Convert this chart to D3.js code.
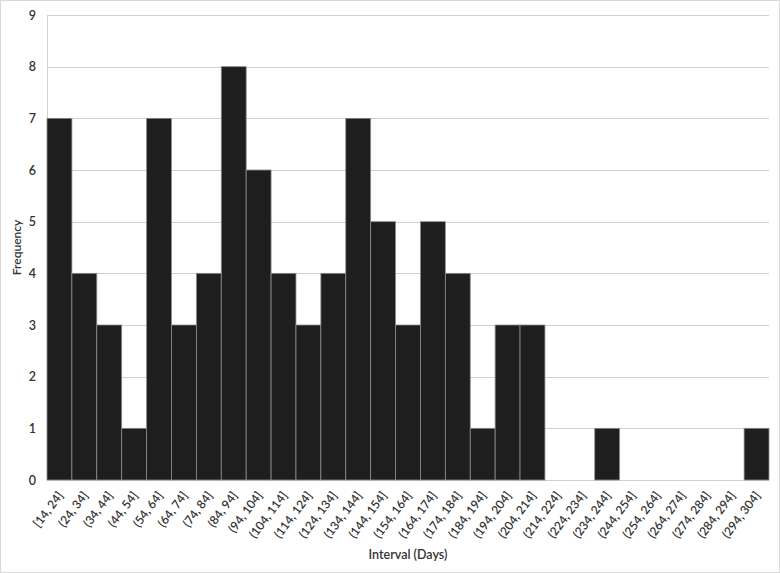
<!DOCTYPE html>
<html><head><meta charset="utf-8">
<script src="https://cdn.jsdelivr.net/npm/d3@7"></script>
<style>body{margin:0;background:#fff;} text{font-family:Lato,"Open Sans",sans-serif;}</style>
</head><body><svg id="c" width="780" height="573"></svg>
<script>
const categories = ["[14, 24]","(24, 34]","(34, 44]","(44, 54]","(54, 64]","(64, 74]","(74, 84]","(84, 94]","(94, 104]","(104, 114]","(114, 124]","(124, 134]","(134, 144]","(144, 154]","(154, 164]","(164, 174]","(174, 184]","(184, 194]","(194, 204]","(204, 214]","(214, 224]","(224, 234]","(234, 244]","(244, 254]","(254, 264]","(264, 274]","(274, 284]","(284, 294]","(294, 304]"];
const frequency = [7,4,3,1,7,3,4,8,6,4,3,4,7,5,3,5,4,1,3,3,0,0,1,0,0,0,0,0,1];
const yTicks = [0,1,2,3,4,5,6,7,8,9];
const xTitle = "Interval (Days)";
const yTitle = "Frequency";

const svg = d3.select("#c");
svg.append("rect").attr("x",0.5).attr("y",0.5).attr("width",779).attr("height",572)
  .attr("fill","#fff").attr("stroke","#d9d9d9");
const m = {l:47, r:11, t:15, b:93};
const W = 780, H = 573;
const x = d3.scaleBand().domain(categories).range([m.l, W-m.r]).padding(0);
const y = d3.scaleLinear().domain([0,9]).range([H-m.b, m.t]);

const g = svg.append("g");
g.selectAll("line.grid").data(yTicks).join("line").attr("class","grid")
  .attr("x1",m.l).attr("x2",W-m.r).attr("y1",d=>Math.round(y(d))+0.5).attr("y2",d=>Math.round(y(d))+0.5)
  .attr("stroke","#d0d0d0").attr("stroke-width",1);
g.append("line").attr("x1",m.l+0.5).attr("x2",m.l+0.5).attr("y1",m.t).attr("y2",H-m.b)
  .attr("stroke","#d0d0d0");

g.selectAll("rect.bar").data(frequency).join("rect").attr("class","bar")
  .attr("x",(d,i)=>x(categories[i])).attr("width",x.bandwidth())
  .attr("y",d=>y(d)).attr("height",d=>y(0)-y(d))
  .attr("fill","#1e1e1e").attr("stroke","#8c8c8c").attr("stroke-width",0.8);

const yAxis = d3.axisLeft(y).tickValues(yTicks).tickSize(0).tickPadding(11);
const ya = svg.append("g").attr("transform",`translate(${m.l},0)`).call(yAxis);
ya.select(".domain").remove();
ya.selectAll("text").attr("font-size",12.5).attr("font-weight",600).attr("fill","#333").attr("font-family","Lato, sans-serif");

const xAxis = d3.axisBottom(x).tickSize(0).tickPadding(0);
const xa = svg.append("g").attr("transform",`translate(0,${H-m.b})`).call(xAxis);
xa.select(".domain").remove();
xa.selectAll("text").attr("font-size",12).attr("font-weight",600).attr("fill","#333").attr("font-family","Lato, sans-serif")
  .attr("text-anchor","end").attr("dy","0.35em")
  .attr("transform","translate(1,13) rotate(-53)");

svg.append("text").attr("x",(m.l+W-m.r)/2).attr("y",559).attr("text-anchor","middle")
  .attr("font-size",12.5).attr("font-weight",600).attr("fill","#333").text(xTitle);
svg.append("text").attr("transform",`translate(21,${(m.t+H-m.b)/2}) rotate(-90)`).attr("text-anchor","middle")
  .attr("font-size",12).attr("font-weight",600).attr("fill","#333").text(yTitle);
</script></body></html>
